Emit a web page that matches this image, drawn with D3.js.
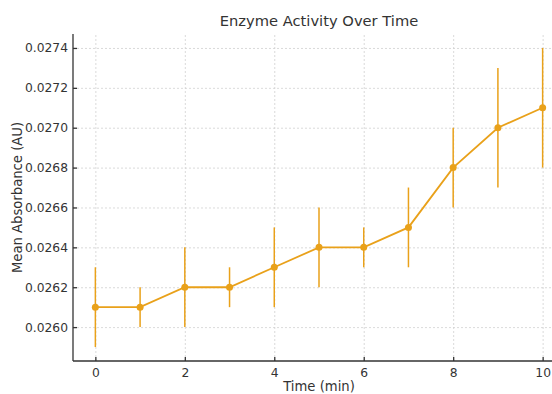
<!DOCTYPE html>
<html>
<head>
<meta charset="utf-8">
<script src="https://cdn.jsdelivr.net/npm/d3@7"></script>
<style>
  html, body { margin: 0; padding: 0; background: #fff; }
  svg { display: block; font-family: "DejaVu Sans", sans-serif; }
  .grid line { stroke: #d0d0d0; stroke-dasharray: 2,2; stroke-width: 0.8; }
  .grid path { display: none; }
  .axis path, .axis line { stroke: #333; stroke-width: 1.3; }
  .axis text { fill: #333; font-size: 12.3px; font-family: "DejaVu Sans", sans-serif; }
</style>
</head>
<body>
<svg id="chart" width="552" height="394"></svg>
<script>
// data
const times = [0, 1, 2, 3, 4, 5, 6, 7, 8, 9, 10]
const means = [0.0261, 0.0261, 0.0262, 0.0262, 0.0263, 0.0264, 0.0264, 0.0265, 0.0268, 0.0270, 0.0271]
const errors = [0.0002, 0.0001, 0.0002, 0.0001, 0.0002, 0.0002, 0.0001, 0.0002, 0.0002, 0.0003, 0.0003]
const xTicks = [0, 2, 4, 6, 8, 10]
const yTicks = [0.0260, 0.0262, 0.0264, 0.0266, 0.0268, 0.0270, 0.0272, 0.0274]

const color = '#e9a11a'
const svg = d3.select('#chart')
const margin = { top: 34, right: -13, bottom: 33, left: 73 }
const width = 552, height = 394
const innerW = width - margin.left - margin.right
const innerH = height - margin.top - margin.bottom

const x = d3.scaleLinear().domain([-0.5, 10.5]).range([0, innerW])
const y = d3.scaleLinear().domain([0.02583, 0.02747]).range([innerH, 0])

const g = svg.append('g').attr('transform', `translate(${margin.left},${margin.top})`)

g.append('g').attr('class', 'grid')
  .call(d3.axisLeft(y).tickValues(yTicks).tickSize(-innerW).tickFormat(''))
g.append('g').attr('class', 'grid')
  .attr('transform', `translate(0,${innerH})`)
  .call(d3.axisBottom(x).tickValues(xTicks).tickSize(innerH).tickFormat(''))
  .selectAll('line').attr('y2', -innerH)

const data = times.map((t, i) => ({ t, m: means[i], e: errors[i] }))

g.selectAll('.err').data(data).join('line')
  .attr('class', 'err')
  .attr('x1', d => x(d.t)).attr('x2', d => x(d.t))
  .attr('y1', d => y(d.m - d.e)).attr('y2', d => y(d.m + d.e))
  .attr('stroke', color).attr('stroke-width', 1.5)

g.append('path').datum(data)
  .attr('fill', 'none').attr('stroke', color).attr('stroke-width', 1.8)
  .attr('d', d3.line().x(d => x(d.t)).y(d => y(d.m)))

g.selectAll('.pt').data(data).join('circle')
  .attr('class', 'pt')
  .attr('cx', d => x(d.t)).attr('cy', d => y(d.m)).attr('r', 3.5)
  .attr('fill', color)

const xAxis = g.append('g').attr('class', 'axis')
  .attr('transform', `translate(0,${innerH})`)
  .call(d3.axisBottom(x).tickValues(xTicks).tickSizeInner(-4).tickSizeOuter(0).tickPadding(7))
xAxis.select('.domain').attr('d', `M0,0H${innerW}`)

const yAxis = g.append('g').attr('class', 'axis')
  .call(d3.axisLeft(y).tickValues(yTicks).tickSizeInner(-4).tickSizeOuter(0).tickPadding(5)
    .tickFormat(d3.format('.4f')))
yAxis.select('.domain').attr('d', `M0,0V${innerH}`)

svg.append('text')
  .attr('x', margin.left + innerW / 2).attr('y', 26)
  .attr('text-anchor', 'middle').attr('fill', '#333').attr('font-size', '14.7px')
  .text('Enzyme Activity Over Time')

svg.append('text')
  .attr('x', margin.left + innerW / 2).attr('y', 391)
  .attr('text-anchor', 'middle').attr('fill', '#333').attr('font-size', '13.2px')
  .text('Time (min)')

svg.append('text')
  .attr('transform', `translate(22,${margin.top + innerH / 2}) rotate(-90)`)
  .attr('text-anchor', 'middle').attr('fill', '#333').attr('font-size', '13.2px')
  .text('Mean Absorbance (AU)')
</script>
</body>
</html>
